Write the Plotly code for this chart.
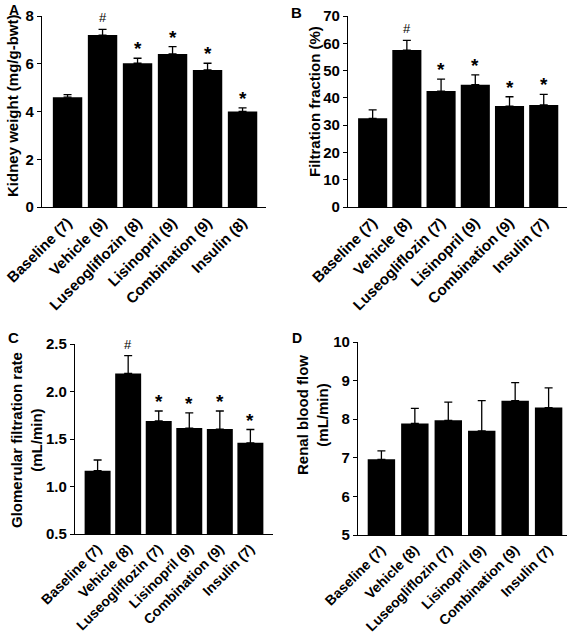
import plotly.graph_objects as go

W, H = 574, 637

# ---------------- data ----------------
cats_A = ["Baseline (7)", "Vehicle (9)", "Luseogliflozin (8)", "Lisinopril (9)", "Combination (9)", "Insulin (8)"]
kidney_weight = [4.6, 7.2, 6.02, 6.41, 5.74, 4.0]
kidney_err = [0.11, 0.24, 0.21, 0.31, 0.28, 0.15]
marks_A = ["", "#", "*", "*", "*", "*"]

cats_B = ["Baseline (7)", "Vehicle (8)", "Luseogliflozin (7)", "Lisinopril (9)", "Combination (9)", "Insulin (7)"]
filtration_fraction = [32.5, 57.5, 42.5, 44.8, 37.0, 37.4]
ff_err = [3.1, 3.6, 4.4, 3.6, 3.4, 3.9]
marks_B = ["", "#", "*", "*", "*", "*"]

cats_C = ["Baseline (7)", "Vehicle (8)", "Luseogliflozin (7)", "Lisinopril (9)", "Combination (9)", "Insulin (7)"]
gfr = [1.166, 2.19, 1.69, 1.615, 1.605, 1.46]
gfr_err = [0.113, 0.187, 0.105, 0.16, 0.19, 0.14]
marks_C = ["", "#", "*", "*", "*", "*"]

cats_D = ["Baseline (7)", "Vehicle (8)", "Luseogliflozin (7)", "Lisinopril (9)", "Combination (9)", "Insulin (7)"]
rbf = [6.96, 7.89, 7.97, 7.70, 8.48, 8.30]
rbf_err = [0.22, 0.39, 0.47, 0.78, 0.47, 0.51]
marks_D = ["", "", "", "", "", ""]

# ---------------- layout helpers ----------------
def xd(a, b):
    return [a / W, b / W]

def yd(top, bottom):
    return [1 - bottom / H, 1 - top / H]

FONT = "Liberation Sans, Arial, sans-serif"
TICK = 15
TITLE = 15

panels = [
    # cats, vals, errs, marks, xdomain(px), ydomain(px), yrange, dtick, xrange, barwidth, tickformat, xtick size
    (cats_A, kidney_weight, kidney_err, marks_A, (42, 266), (16, 207), [0, 8], 2, [-0.73, 5.67], 0.84, "", 15),
    (cats_B, filtration_fraction, ff_err, marks_B, (348, 567), (16, 207), [0, 70], 10, [-0.72, 5.68], 0.85, "", 15),
    (cats_C, gfr, gfr_err, marks_C, (75, 273), (344, 534), [0.5, 2.5], 0.5, [-0.74, 5.74], 0.85, ".1f", 14),
    (cats_D, rbf, rbf_err, marks_D, (358, 567), (342, 535), [5, 10], 1, [-0.70, 5.55], 0.82, "", 14),
]

fig = go.Figure()
layout = dict(
    template="none",
    width=W, height=H,
    margin=dict(l=0, r=0, t=0, b=0, autoexpand=False),
    paper_bgcolor="white", plot_bgcolor="white",
    showlegend=False,
    font=dict(family=FONT, color="black"),
)
annotations = []

for i, (cats, vals, errs, marks, xpx, ypx, yr, dt, xr, bw, tf, xts) in enumerate(panels):
    n = "" if i == 0 else str(i + 1)
    xa, ya = "x" + n, "y" + n
    fig.add_trace(go.Bar(
        x=cats, y=vals, width=bw,
        marker=dict(color="black", line=dict(width=0)),
        error_y=dict(type="data", array=errs, arrayminus=[0] * len(errs), symmetric=False,
                     color="black", thickness=1.3, width=4),
        xaxis=xa, yaxis=ya,
    ))
    layout["xaxis" + n] = dict(
        domain=xd(*xpx), anchor=ya, type="category", range=xr, automargin=False,
        showline=True, linecolor="black", linewidth=1.3, showgrid=False, zeroline=False,
        ticks="", tickangle=-45,
        tickfont=dict(family=FONT, size=xts, color="black", weight="bold"),
    )
    layout["yaxis" + n] = dict(
        domain=yd(*ypx), anchor=xa, range=yr, dtick=dt, tick0=yr[0], tickformat=tf, automargin=False,
        showline=True, linecolor="black", linewidth=1.3, showgrid=False, zeroline=False,
        ticks="outside", ticklen=4, tickwidth=1.3, tickcolor="black",
        tickfont=dict(family=FONT, size=TICK, color="black", weight="bold"),
    )
    for c, v, e, m in zip(cats, vals, errs, marks):
        if not m:
            continue
        annotations.append(dict(
            x=c, y=v + e, xref=xa, yref=ya, text=m, showarrow=False,
            yanchor="bottom", yshift=2 if m == "#" else -3,
            font=dict(family=FONT, size=13 if m == "#" else 19, color="black",
                      weight="normal" if m == "#" else "bold"),
        ))

def ptxt(text, x, y, size=TITLE, angle=0):
    annotations.append(dict(
        text=text, x=x / W, y=1 - y / H, xref="paper", yref="paper",
        showarrow=False, textangle=angle, xanchor="center", yanchor="middle",
        font=dict(family=FONT, size=size, color="black", weight="bold"),
    ))

# panel letters
ptxt("A", 14, 10, 14)
ptxt("B", 296, 12, 15)
ptxt("C", 13, 337, 15)
ptxt("D", 297, 338, 14)

# axis titles
ptxt("Kidney weight (mg/g-bwt)", 13, 106, TITLE, -90)
ptxt("Filtration fraction (%)", 315, 102, TITLE, -90)
ptxt("Glomerular filtration rate<br>(mL/min)", 26, 440, TITLE, -90)
ptxt("Renal blood flow<br>(mL/min)", 312, 415, TITLE, -90)

layout["annotations"] = annotations
fig.update_layout(**layout)
fig.write_html("out.html", config={"displayModeBar": False},
               post_script="document.body.style.margin='0';document.body.style.overflow='hidden';")
